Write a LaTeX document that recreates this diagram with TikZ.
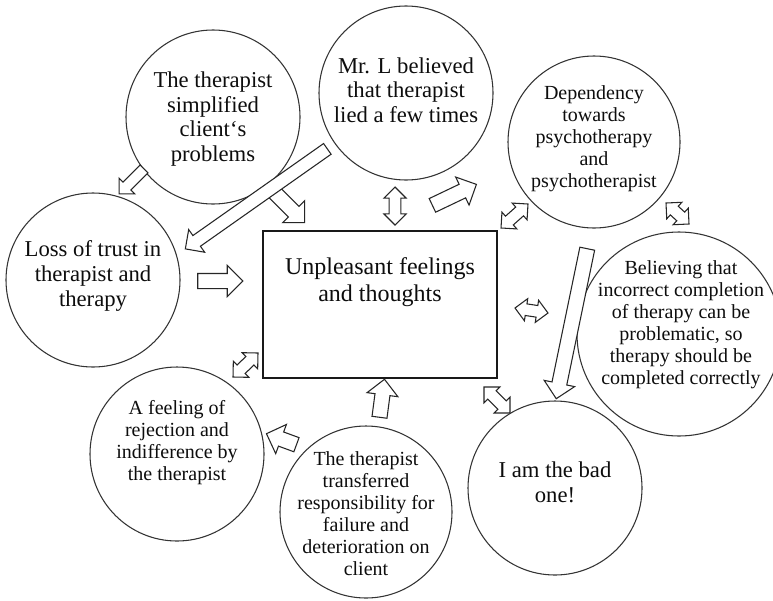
\documentclass[tikz,border=0pt]{standalone}
\usepackage{fontspec}
\setmainfont{Liberation Serif}
\usetikzlibrary{calc}
\usetikzlibrary{shapes.arrows}

% hollow block arrow laid between two points
\newcommand{\blockarrow}[4][sarrow]{%
  \path let \p1=($(#4)-(#3)$), \n1={veclen(\x1,\y1)} in
    (#3) -- node[#1, midway, sloped, allow upside down, minimum height=\n1] (#2) {} (#4);}

\begin{document}
\begin{tikzpicture}[
    x=0.75pt, y=-0.75pt,
    bubble/.style={circle, draw=black!80, line width=0.8pt, fill=white, inner sep=0pt, minimum size=#1},
    bubble/.default=130.5pt,
    bigtxt/.style={align=center, text=black!95, font=\fontsize{17}{18.5}\selectfont},
    smalltxt/.style={align=center, text=black!95, font=\fontsize{15}{16.5}\selectfont},
    sarrow/.style={single arrow, draw=black!85, fill=white, line width=0.8pt, inner sep=5.25pt, single arrow head extend=6pt},
    thinarrow/.style={sarrow, inner sep=4.5pt, single arrow head extend=5.5pt},
    smallarrow/.style={sarrow, inner sep=3.75pt, single arrow head extend=4.25pt},
    darrow/.style={double arrow, draw=black!85, fill=white, line width=0.8pt, inner sep=4pt, double arrow head extend=4pt}
]
\path[fill=white, use as bounding box] (0,0) rectangle (773,600);

% Circles round the core
\node[bubble] (simp) at (213,117) {};
\node[bubble] (mrl) at (406,93) {};
\node[bubble=129pt] (dep) at (594,142) {};
\node[bubble=153pt] (bel) at (679,334) {};
\node[bubble] (bad) at (555,488) {};
\node[bubble=129pt] (trans) at (366,512) {};
\node[bubble] (rej) at (177,454) {};
\node[bubble] (loss) at (93,280) {};

% Core box
\node[draw=black!90, line width=1.3pt, minimum width=175.5pt, minimum height=110.25pt] (core) at (380,304.5) {};

% Texts
\node[bigtxt] (simp-t) at (213,119) {The therapist\\simplified\\client‘s\\problems};
\node[bigtxt] (mrl-t) at (406,90) {Mr. L believed\\that therapist\\lied a few times};
\node[smalltxt] (dep-t) at (594,139) {Dependency\\towards\\psychotherapy\\and\\psychotherapist};
\node[smalltxt] (bel-t) at (681,325) {Believing that\\incorrect completion\\of therapy can be\\problematic, so\\therapy should be\\completed correctly};
\node[bigtxt] (bad-t) at (555,482) {I am the bad\\one!};
\node[smalltxt] (trans-t) at (366,514) {The therapist\\transferred\\responsibility for\\failure and\\deterioration on\\client};
\node[smalltxt] (rej-t) at (177,443) {A feeling of\\rejection and\\indifference by\\the therapist};
\node[bigtxt] (loss-t) at (93,276) {Loss of trust in\\therapist and\\therapy};
\node[align=center, text=black!95, font=\fontsize{18}{20}\selectfont] (core-t) at (380,282) {Unpleasant feelings\\and thoughts};

% Arrow ends
\coordinate (simp-a) at (146,167);  \coordinate (loss-a) at (121,192);
\coordinate (simp-b) at (271,189);  \coordinate (core-b) at (302,220);
\coordinate (mrl-c) at (330,147);   \coordinate (loss-c) at (188,247);
\coordinate (loss-d) at (194,281);  \coordinate (core-d) at (239,281);
\coordinate (mrl-e) at (395,187);   \coordinate (core-e) at (395,225);
\coordinate (mrl-f) at (429,207);   \coordinate (dep-f) at (473,186);
\coordinate (core-g) at (501,228);  \coordinate (dep-g) at (528,204);
\coordinate (dep-h) at (666,203);   \coordinate (bel-h) at (689,224);
\coordinate (dep-i) at (588,245);   \coordinate (bad-i) at (557,395);
\coordinate (core-j) at (515,308);  \coordinate (bel-j) at (548,313);
\coordinate (core-k) at (484,387);  \coordinate (bad-k) at (510,413);
\coordinate (trans-l) at (379,421); \coordinate (core-l) at (384,383);
\coordinate (trans-m) at (300,446); \coordinate (rej-m) at (270,435);
\coordinate (rej-n) at (233,377);   \coordinate (core-n) at (258,353);

% Block arrows
\blockarrow[smallarrow]{simp2loss}{simp-a}{loss-a}
\blockarrow{simp2core}{simp-b}{core-b}
\blockarrow[thinarrow]{mrl2loss}{mrl-c}{loss-c}
\blockarrow{loss2core}{loss-d}{core-d}
\blockarrow[darrow]{mrl2core}{mrl-e}{core-e}
\blockarrow{mrl2dep}{mrl-f}{dep-f}
\blockarrow[darrow]{core2dep}{core-g}{dep-g}
\blockarrow[darrow]{dep2bel}{dep-h}{bel-h}
\blockarrow{dep2bad}{dep-i}{bad-i}
\blockarrow[darrow]{core2bel}{core-j}{bel-j}
\blockarrow[darrow]{core2bad}{core-k}{bad-k}
\blockarrow{trans2core}{trans-l}{core-l}
\blockarrow{trans2rej}{trans-m}{rej-m}
\blockarrow[darrow]{rej2core}{rej-n}{core-n}
\end{tikzpicture}
\end{document}
